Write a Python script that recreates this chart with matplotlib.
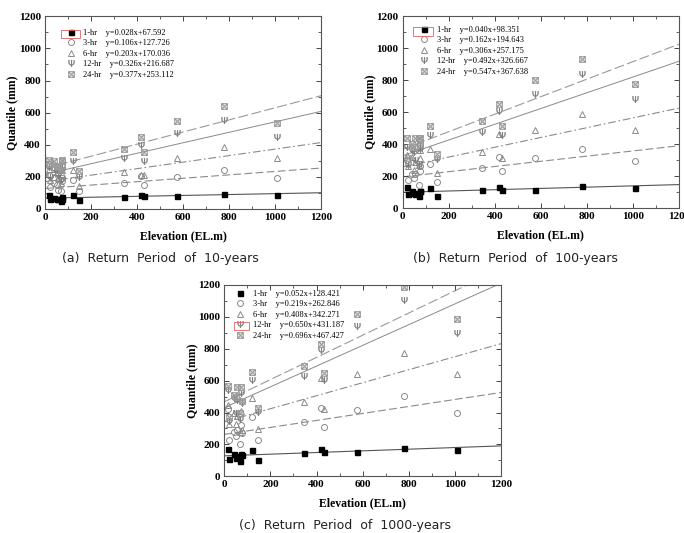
import matplotlib
matplotlib.use("Agg")
import matplotlib.pyplot as plt
from matplotlib.path import Path
from matplotlib.patches import Rectangle
from matplotlib.ticker import MultipleLocator
import numpy as np

# ---------------- data ----------------
elevation = [18, 22, 40, 50, 55, 70, 73, 76, 120, 148, 345, 418, 432, 575, 780, 1010]
durations = ["1-hr", "3-hr", "6-hr", "12-hr", "24-hr"]

# 10-year return period
q10_1h = [90, 60, 70, 65, 62, 50, 65, 72, 85, 55, 75, 90, 78, 80, 95, 85]
q10_3h = [210, 140, 160, 150, 120, 110, 175, 190, 180, 110, 165, 205, 150, 200, 245, 195]
q10_6h = [250, 180, 200, 230, 190, 160, 220, 240, 245, 145, 230, 210, 210, 320, 385, 320]
q10_12h = [260, 200, 250, 240, 210, 180, 240, 260, 300, 200, 315, 400, 300, 475, 555, 450]
q10_24h = [305, 280, 300, 270, 260, 240, 300, 305, 355, 235, 375, 450, 355, 550, 640, 535]
slope10 = [0.028, 0.106, 0.203, 0.326, 0.377]
inter10 = [67.592, 127.726, 170.036, 216.687, 253.112]

# 100-year return period
q100_1h = [130, 85, 105, 95, 90, 75, 105, 108, 125, 75, 110, 130, 115, 115, 140, 125]
q100_3h = [300, 175, 210, 190, 210, 145, 230, 260, 275, 165, 250, 320, 230, 310, 370, 295]
q100_6h = [330, 260, 320, 240, 290, 270, 310, 360, 370, 220, 350, 460, 315, 485, 585, 485]
q100_12h = [380, 270, 360, 350, 300, 270, 390, 370, 455, 305, 475, 605, 455, 715, 840, 680]
q100_24h = [440, 310, 400, 380, 440, 440, 440, 400, 515, 340, 545, 650, 515, 800, 930, 775]
slope100 = [0.040, 0.162, 0.306, 0.492, 0.547]
inter100 = [98.351, 194.643, 257.175, 326.667, 367.638]

# 1000-year return period
q1000_1h = [170, 110, 140, 115, 130, 95, 140, 135, 165, 100, 145, 170, 150, 155, 180, 165]
q1000_3h = [420, 230, 280, 250, 290, 200, 320, 270, 370, 225, 340, 430, 310, 415, 505, 400]
q1000_6h = [450, 330, 400, 330, 380, 280, 410, 290, 490, 295, 465, 615, 420, 640, 775, 640]
q1000_12h = [540, 350, 490, 400, 480, 360, 520, 460, 605, 405, 630, 795, 605, 945, 1105, 900]
q1000_24h = [565, 370, 510, 500, 560, 400, 560, 470, 655, 430, 695, 830, 650, 1015, 1185, 985]
slope1000 = [0.052, 0.219, 0.408, 0.650, 0.696]
inter1000 = [128.421, 262.846, 342.271, 431.187, 467.427]

captions = ["(a)  Return  Period  of  10-years",
            "(b)  Return  Period  of  100-years",
            "(c)  Return  Period  of  1000-years"]

# ---------------- styling ----------------
W, H = 684, 533
fig = plt.figure(figsize=(W / 100, H / 100), dpi=100)

sqx = Path([(-1, -1), (1, -1), (1, 1), (-1, 1), (-1, -1),
            (-1, -1), (1, 1), (-1, 1), (1, -1)],
           [Path.MOVETO, Path.LINETO, Path.LINETO, Path.LINETO, Path.CLOSEPOLY,
            Path.MOVETO, Path.LINETO, Path.MOVETO, Path.LINETO])

marker_styles = [
    dict(marker="s", color="black", mfc="black", ms=3.6),
    dict(marker="o", color="#8a8a8a", mfc="none", ms=4.3, mew=0.7),
    dict(marker="^", color="#8a8a8a", mfc="none", ms=4.3, mew=0.7),
    dict(marker="$\\Psi$", color="#7a7a7a", mfc="#7a7a7a", ms=4.8, mew=0.2),
    dict(marker=sqx, color="#9a9a9a", mfc="none", ms=4.0, mew=0.8),
]
line_styles = [
    dict(color="#555555", ls="-", lw=0.8),
    dict(color="#8a8a8a", ls=(0, (7, 3)), lw=0.8),
    dict(color="#8a8a8a", ls=(0, (7, 2.5, 1.5, 2.5)), lw=0.8),
    dict(color="#8a8a8a", ls="-", lw=0.7),
    dict(color="#9a9a9a", ls=(0, (9, 3)), lw=0.8),
]

serif = ["Liberation Serif", "DejaVu Serif"]

def px_axes(l, r, t, b):
    return [l / W, 1 - b / H, (r - l) / W, (b - t) / H]

panels = [
    dict(rect=px_axes(45, 321, 16.3, 209),
         series=[q10_1h, q10_3h, q10_6h, q10_12h, q10_24h],
         slope=slope10, inter=inter10, leg=(0.075, 0.935), cap=(160, 259)),
    dict(rect=px_axes(402.7, 679, 16, 208),
         series=[q100_1h, q100_3h, q100_6h, q100_12h, q100_24h],
         slope=slope100, inter=inter100, leg=(0.06, 0.95), cap=(515, 259)),
    dict(rect=px_axes(224.3, 501, 285, 476.3),
         series=[q1000_1h, q1000_3h, q1000_6h, q1000_12h, q1000_24h],
         slope=slope1000, inter=inter1000, leg=(0.04, 0.975), cap=(345, 525)),
]

xfit = np.array([0, 1200])
for i, p in enumerate(panels):
    ax = fig.add_axes(p["rect"])
    handles = []
    for k in range(5):
        yfit = p["slope"][k] * xfit + p["inter"][k]
        ax.plot(xfit, yfit, **line_styles[k], zorder=1)
    for k in range(5):
        h, = ax.plot(elevation, p["series"][k], ls="none", **marker_styles[k], zorder=2)
        handles.append(h)
    labels = [f"{durations[k]}    y={p['slope'][k]:.3f}x+{p['inter'][k]:.3f}" for k in range(5)]
    ax.legend(handles, labels, loc="upper left", bbox_to_anchor=p["leg"], frameon=False,
              prop=dict(family=serif, size=6), handlelength=1.2, handletextpad=0.9,
              labelspacing=0.3, borderaxespad=0, borderpad=0)
    ax.set_xlim(0, 1200)
    ax.set_ylim(0, 1200)
    ax.xaxis.set_major_locator(MultipleLocator(200))
    ax.xaxis.set_minor_locator(MultipleLocator(100))
    ax.yaxis.set_major_locator(MultipleLocator(200))
    ax.yaxis.set_minor_locator(MultipleLocator(100))
    ax.tick_params(which="both", direction="in", top=True, right=True, color="#444444")
    ax.tick_params(which="major", length=3.5, width=0.7, labelsize=8, pad=3)
    ax.tick_params(which="minor", length=2, width=0.6)
    for lab in ax.get_xticklabels() + ax.get_yticklabels():
        lab.set_family(serif)
        lab.set_fontweight("bold")
    for s in ax.spines.values():
        s.set_color("#555555")
        s.set_linewidth(0.8)
    ax.set_xlabel("Elevation (EL.m)", family=serif, fontweight="bold", fontsize=8.5)
    ax.set_ylabel("Quantile (mm)", family=serif, fontweight="bold", fontsize=8.5)
    ax.xaxis.set_label_coords(0.5, -0.11)
    ax.yaxis.set_label_coords(-0.095, 0.5)
    fig.text(p["cap"][0] / W, 1 - p["cap"][1] / H, captions[i], ha="center", va="center",
             fontsize=9, color="#222222", family=["DejaVu Sans"])

# red highlight boxes (annotation marks present in the source image)
for (x0, y0, x1, y1) in [(61, 30, 80, 38), (413, 27, 433, 36), (234, 322, 249, 330)]:
    fig.patches.append(Rectangle((x0 / W, 1 - y1 / H), (x1 - x0) / W, (y1 - y0) / H,
                                 transform=fig.transFigure, fill=False,
                                 edgecolor="#e06060", lw=0.6))

fig.savefig("out.png", dpi=100)
